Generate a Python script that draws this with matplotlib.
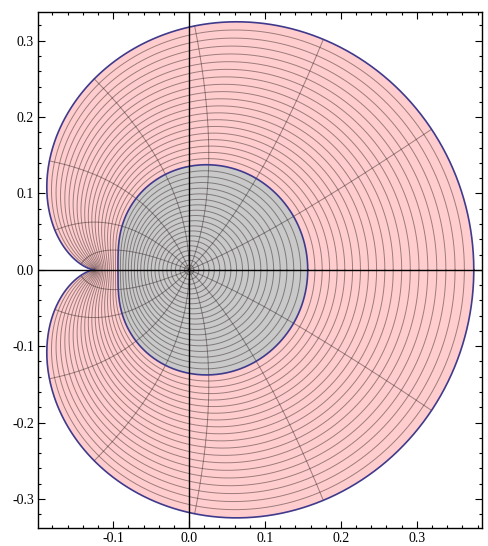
import numpy as np
import matplotlib
matplotlib.use("Agg")
import matplotlib.pyplot as plt
from matplotlib.ticker import MultipleLocator, FuncFormatter

# map w = c1*z + c2*z^2 applied to the unit disk and to the disk of radius 0.5
coef = [0.25, 0.125]
outer_radius = 1.0
inner_radius = 0.5
ring_step = 0.025                       # spacing of the mesh circles in r
ray_angles_deg = [0, 22.5, 45, 67.5, 90, 112.5, 135, 157.5,
                  180, 202.5, 225, 247.5, 270, 292.5, 315, 337.5]

pink = "#ffcdcd"
grey = "#c9c9c9"
edge = "#3f3a8c"
mesh = (0.15, 0.1, 0.1, 0.45)


def f(z):
    return coef[0] * z + coef[1] * z ** 2


t = np.linspace(0, 2 * np.pi, 600)

plt.rcParams["font.family"] = ["Liberation Serif", "DejaVu Serif"]
fig = plt.figure(figsize=(4.88, 5.46), dpi=100)
ax = fig.add_axes([0.078, 0.033, 0.910, 0.9456])


def disk(r0, r1, color, z0):
    w = f(r1 * np.exp(1j * t))
    ax.fill(w.real, w.imag, color=color, lw=0, zorder=z0)
    rr = np.arange(r0 + ring_step, r1 - 1e-9, ring_step)
    for r in rr:
        c = f(r * np.exp(1j * t))
        ax.plot(c.real, c.imag, color=mesh, lw=0.7, zorder=z0 + 1)
    s = np.linspace(0, r1, 200)
    for a in ray_angles_deg:
        c = f(s * np.exp(1j * np.radians(a)))
        ax.plot(c.real, c.imag, color=mesh, lw=0.7, zorder=z0 + 1)
    ax.plot(w.real, w.imag, color=edge, lw=1.2, zorder=z0 + 2)


disk(inner_radius, outer_radius, pink, 1)
disk(0.0, inner_radius, grey, 4)

ax.axhline(0, color="black", lw=1.0, zorder=10)
ax.axvline(0, color="black", lw=1.0, zorder=10)

ax.set_xlim(-0.199, 0.386)
ax.set_ylim(-0.338, 0.338)

ax.xaxis.set_major_locator(MultipleLocator(0.1))
ax.xaxis.set_minor_locator(MultipleLocator(0.02))
ax.yaxis.set_major_locator(MultipleLocator(0.1))
ax.yaxis.set_minor_locator(MultipleLocator(0.02))
fmt = FuncFormatter(lambda v, p: ("%.1f" % v).replace("-0.0", "0.0"))
ax.xaxis.set_major_formatter(fmt)
ax.yaxis.set_major_formatter(fmt)
ax.tick_params(which="both", direction="in", top=True, right=True,
               labelsize=10, width=0.8, pad=3)
ax.tick_params(which="major", length=5)
ax.tick_params(which="minor", length=2.5)
for sp in ax.spines.values():
    sp.set_linewidth(1.0)

fig.savefig("out.png", dpi=100)
